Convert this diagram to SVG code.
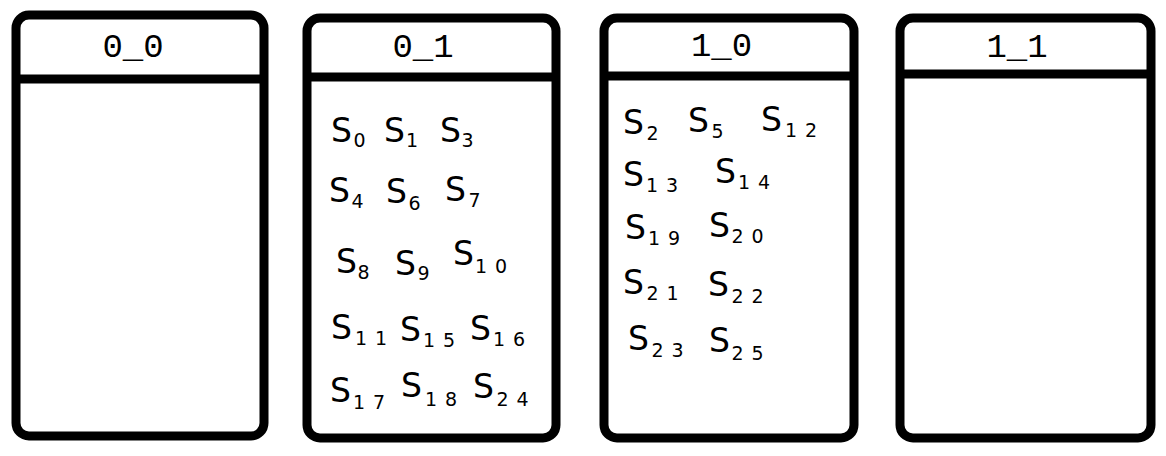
<svg xmlns="http://www.w3.org/2000/svg" width="1166" height="456" viewBox="0 0 1166 456">
<style>
.box{fill:#fff;stroke:#000;stroke-width:9}
.div{stroke:#000;stroke-width:9}
.title{font-family:"Liberation Mono","DejaVu Sans Mono",monospace;font-size:34px;fill:#000;text-anchor:middle}
.s{font-family:"DejaVu Sans",sans-serif;font-size:33px;fill:#000}
.sub{font-family:"DejaVu Sans",sans-serif;font-size:19px;fill:#000;letter-spacing:8px}
</style>
<rect width="1166" height="456" fill="#fff"/>
<g id="node-0_0">
<rect class="box" x="16" y="15" width="248" height="421" rx="13"/>
<line class="div" x1="16" y1="79" x2="264" y2="79"/>
<text class="title" x="133" y="57">0_0</text>
</g>
<g id="node-0_1">
<rect class="box" x="307" y="18" width="249" height="420" rx="13"/>
<line class="div" x1="307" y1="77" x2="556" y2="77"/>
<text class="title" x="423" y="57">0_1</text>
<text class="s" x="331" y="142">S</text><text class="sub" x="353.5" y="147">0</text>
<text class="s" x="384" y="142">S</text><text class="sub" x="406" y="147">1</text>
<text class="s" x="440" y="142">S</text><text class="sub" x="461.5" y="147">3</text>
<text class="s" x="329" y="202">S</text><text class="sub" x="351.5" y="208">4</text>
<text class="s" x="386" y="203">S</text><text class="sub" x="408.5" y="210">6</text>
<text class="s" x="445" y="201">S</text><text class="sub" x="468.5" y="207">7</text>
<text class="s" x="336" y="273">S</text><text class="sub" x="357.5" y="279">8</text>
<text class="s" x="395" y="275">S</text><text class="sub" x="417.5" y="280">9</text>
<text class="s" x="453" y="265">S</text><text class="sub" x="475" y="273">10</text>
<text class="s" x="331" y="339">S</text><text class="sub" x="355" y="345">11</text>
<text class="s" x="400" y="341">S</text><text class="sub" x="423" y="347">15</text>
<text class="s" x="470" y="340">S</text><text class="sub" x="493" y="346">16</text>
<text class="s" x="330" y="402">S</text><text class="sub" x="353" y="409">17</text>
<text class="s" x="401" y="397">S</text><text class="sub" x="425" y="406">18</text>
<text class="s" x="473" y="398">S</text><text class="sub" x="496.5" y="406">24</text>
</g>
<g id="node-1_0">
<rect class="box" x="604" y="18" width="250" height="420" rx="13"/>
<line class="div" x1="604" y1="76" x2="854" y2="76"/>
<text class="title" x="721.5" y="56">1_0</text>
<text class="s" x="623" y="134">S</text><text class="sub" x="646.5" y="140">2</text>
<text class="s" x="688" y="132">S</text><text class="sub" x="711.5" y="138">5</text>
<text class="s" x="761" y="131">S</text><text class="sub" x="785" y="137">12</text>
<text class="s" x="623" y="186">S</text><text class="sub" x="646" y="192">13</text>
<text class="s" x="715" y="183">S</text><text class="sub" x="738" y="189">14</text>
<text class="s" x="625" y="239">S</text><text class="sub" x="648" y="245">19</text>
<text class="s" x="709" y="237">S</text><text class="sub" x="731.5" y="243">20</text>
<text class="s" x="623" y="294">S</text><text class="sub" x="646.5" y="300">21</text>
<text class="s" x="708" y="296">S</text><text class="sub" x="731.5" y="303">22</text>
<text class="s" x="628" y="350">S</text><text class="sub" x="651.5" y="357">23</text>
<text class="s" x="709" y="352">S</text><text class="sub" x="731.5" y="360">25</text>
</g>
<g id="node-1_1">
<rect class="box" x="900" y="18" width="251" height="420" rx="13"/>
<line class="div" x1="900" y1="74" x2="1151" y2="74"/>
<text class="title" x="1017" y="57">1_1</text>
</g>
<g id="connectors"/>
</svg>
